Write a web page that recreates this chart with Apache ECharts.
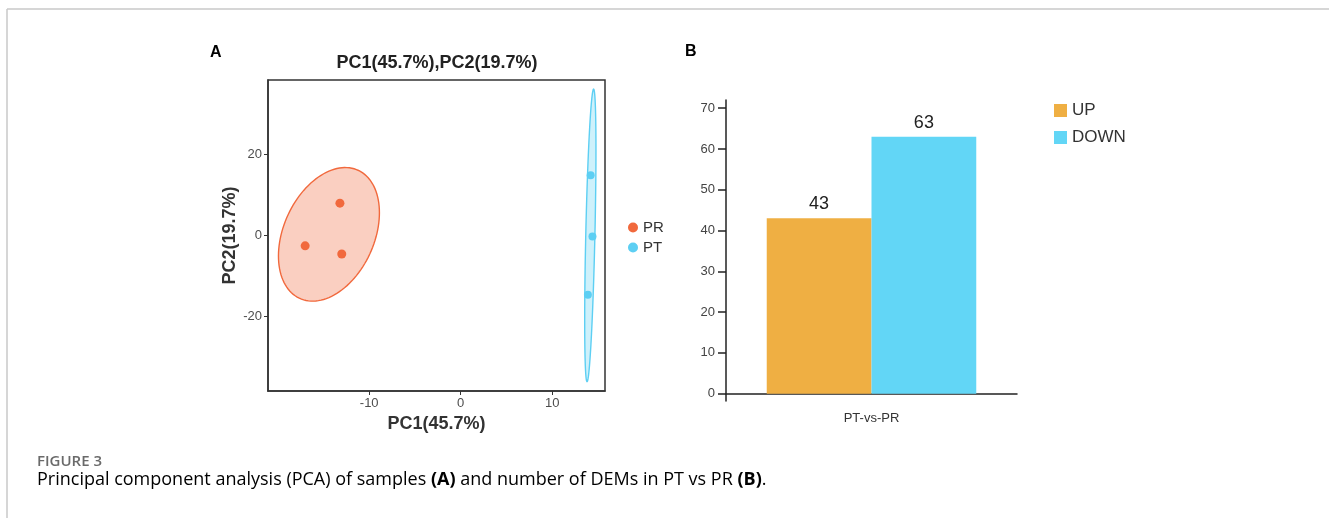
<!DOCTYPE html>
<html>
<head>
<meta charset="utf-8">
<script src="https://cdn.jsdelivr.net/npm/echarts@6/dist/echarts.min.js"></script>
<style>
  html, body { margin: 0; padding: 0; background: #fff; }
  #chart { width: 1329px; height: 518px; }
</style>
</head>
<body>
<div id="chart"></div>
<script>
// panel A: PCA scores
const prPoints = [[-13.2, 7.9], [-17.0, -2.6], [-13.0, -4.6]];
const ptPoints = [[14.2, 14.8], [14.4, -0.3], [13.9, -14.6]];
const pcaXTicks = [-10, 0, 10];
const pcaYTicks = [-20, 0, 20];

// panel B: number of DEMs
const groups = ['PT-vs-PR'];
const upCounts = [43];
const downCounts = [63];
const countTicks = [0, 10, 20, 30, 40, 50, 60, 70];

const PR_COLOR = '#F1693D';
const PT_COLOR = '#5DCFF3';
const FONT = 'Liberation Sans, Arial, sans-serif';

// 95% normal confidence ellipse from the group's points
function confEllipse(pts, n) {
  const k = pts.length;
  let mx = 0, my = 0;
  pts.forEach(p => { mx += p[0]; my += p[1]; });
  mx /= k; my /= k;
  let sxx = 0, syy = 0, sxy = 0;
  pts.forEach(p => {
    sxx += (p[0] - mx) * (p[0] - mx);
    syy += (p[1] - my) * (p[1] - my);
    sxy += (p[0] - mx) * (p[1] - my);
  });
  sxx /= (k - 1); syy /= (k - 1); sxy /= (k - 1);
  const a = Math.sqrt(sxx);
  const b = sxy / a;
  const c = Math.sqrt(syy - b * b);
  const r = Math.sqrt(5.991);
  const out = [];
  for (let i = 0; i < n; i++) {
    const t = 2 * Math.PI * i / n;
    out.push([mx + r * a * Math.cos(t), my + r * (b * Math.cos(t) + c * Math.sin(t))]);
  }
  return out;
}

function ellipseSeries(pts, color, fill) {
  const ring = confEllipse(pts, 120);
  return {
    type: 'custom',
    xAxisIndex: 0,
    yAxisIndex: 0,
    silent: true,
    z: 1,
    data: [[0, 0]],
    renderItem: function (params, api) {
      return {
        type: 'polygon',
        shape: { points: ring.map(p => api.coord(p)) },
        style: { fill: fill, stroke: color, lineWidth: 1.4 }
      };
    }
  };
}

var chart = echarts.init(document.getElementById('chart'));

var option = {
  animation: false,
  backgroundColor: '#fff',
  grid: [
    { left: 268, right: 724, top: 80, bottom: 127, show: true, borderColor: '#333', borderWidth: 1.5, backgroundColor: 'transparent' },
    { left: 726, right: 312, top: 100, bottom: 117 }
  ],
  legend: [
    {
      data: ['PR', 'PT'],
      orient: 'vertical',
      left: 623,
      top: 215,
      icon: 'circle',
      itemWidth: 10,
      itemHeight: 10,
      itemGap: 5,
      textStyle: { fontSize: 15, color: '#333', fontFamily: FONT }
    },
    {
      data: ['UP', 'DOWN'],
      orient: 'vertical',
      left: 1049,
      top: 97,
      icon: 'rect',
      itemWidth: 13,
      itemHeight: 13,
      itemGap: 10,
      textStyle: { fontSize: 17, color: '#333', fontFamily: FONT }
    }
  ],
  xAxis: [
    {
      type: 'value', gridIndex: 0, min: -21.06, max: 15.77,
      name: 'PC1(45.7%)', nameLocation: 'middle', nameGap: 21,
      nameTextStyle: { fontSize: 18, fontWeight: 'bold', color: '#333', fontFamily: FONT },
      axisLine: { show: true, onZero: false, lineStyle: { color: '#333', width: 1.5 } },
      axisTick: { show: true, length: 4, customValues: pcaXTicks, lineStyle: { color: '#333' } },
      axisLabel: { customValues: pcaXTicks, margin: 6, fontSize: 13, color: '#4d4d4d', fontFamily: FONT },
      splitLine: { show: false }
    },
    {
      type: 'category', gridIndex: 1, data: groups,
      axisLine: { onZero: true, lineStyle: { color: '#222', width: 1.5 } },
      axisTick: { alignWithLabel: true, length: 7, lineStyle: { color: '#222', width: 1.5 } },
      axisLabel: { margin: 11, fontSize: 13, color: '#333', fontFamily: FONT }
    }
  ],
  yAxis: [
    {
      type: 'value', gridIndex: 0, min: -38.3, max: 38.2,
      name: 'PC2(19.7%)', nameLocation: 'middle', nameGap: 28,
      nameTextStyle: { fontSize: 18, fontWeight: 'bold', color: '#333', fontFamily: FONT },
      axisLine: { show: true, onZero: false, lineStyle: { color: '#333', width: 1.5 } },
      axisTick: { show: true, length: 4, customValues: pcaYTicks, lineStyle: { color: '#333' } },
      axisLabel: { customValues: pcaYTicks, margin: 6, fontSize: 13, color: '#4d4d4d', fontFamily: FONT },
      splitLine: { show: false }
    },
    {
      type: 'value', gridIndex: 1, min: -1.8, max: 72,
      axisLine: { show: true, lineStyle: { color: '#222', width: 1.5 } },
      axisTick: { show: true, length: 8, customValues: countTicks, lineStyle: { color: '#222', width: 1.5 } },
      axisLabel: { customValues: countTicks, margin: 11, fontSize: 13, color: '#444', fontFamily: FONT },
      splitLine: { show: false }
    }
  ],
  series: [
    ellipseSeries(prPoints, PR_COLOR, 'rgba(241,105,61,0.32)'),
    ellipseSeries(ptPoints, PT_COLOR, 'rgba(93,207,243,0.30)'),
    {
      name: 'PR', type: 'scatter', xAxisIndex: 0, yAxisIndex: 0, z: 3,
      symbolSize: 9, itemStyle: { color: PR_COLOR, opacity: 1 }, data: prPoints
    },
    {
      name: 'PT', type: 'scatter', xAxisIndex: 0, yAxisIndex: 0, z: 3,
      symbolSize: 8, itemStyle: { color: PT_COLOR, opacity: 1 }, data: ptPoints
    },
    {
      name: 'UP', type: 'bar', xAxisIndex: 1, yAxisIndex: 1,
      barGap: '0%', barCategoryGap: '28%',
      itemStyle: { color: '#EFAF43' },
      label: { show: true, position: 'top', distance: 5, fontSize: 18, color: '#222', fontFamily: FONT },
      data: upCounts
    },
    {
      name: 'DOWN', type: 'bar', xAxisIndex: 1, yAxisIndex: 1,
      barGap: '0%', barCategoryGap: '28%',
      itemStyle: { color: '#62D6F6' },
      label: { show: true, position: 'top', distance: 5, fontSize: 18, color: '#222', fontFamily: FONT },
      data: downCounts
    }
  ],
  graphic: [
    { type: 'line', shape: { x1: 7, y1: 9, x2: 1329, y2: 9 }, style: { stroke: '#c8c8c8', lineWidth: 1.5 } },
    { type: 'line', shape: { x1: 7, y1: 9, x2: 7, y2: 518 }, style: { stroke: '#c8c8c8', lineWidth: 1.5 } },
    { type: 'text', x: 210, y: 53, style: { text: 'A', font: 'bold 16px Liberation Sans, Arial, sans-serif', fill: '#000', verticalAlign: 'middle' } },
    { type: 'text', x: 685, y: 52, style: { text: 'B', font: 'bold 16px Liberation Sans, Arial, sans-serif', fill: '#000', verticalAlign: 'middle' } },
    { type: 'text', x: 437, y: 63, style: { text: 'PC1(45.7%),PC2(19.7%)', font: 'bold 18px Liberation Sans, Arial, sans-serif', fill: '#222', align: 'center', verticalAlign: 'middle' } },
    { type: 'text', x: 37, y: 462, style: { text: 'FIGURE 3', font: '600 15px "Open Sans", sans-serif', fill: '#6a6a6a', verticalAlign: 'middle' } },
    {
      type: 'text', x: 37, y: 480,
      style: {
        text: '{n|Principal component analysis (PCA) of samples }{b|(A)}{n| and number of DEMs in PT vs PR }{b|(B)}{n|.}',
        verticalAlign: 'middle',
        rich: {
          n: { fontFamily: '"Open Sans", sans-serif', fontSize: 18, color: '#6e6e6e' },
          b: { fontFamily: '"Open Sans", sans-serif', fontSize: 18, fontWeight: 'bold', color: '#6e6e6e' }
        }
      }
    }
  ]
};

chart.setOption(option);
</script>
</body>
</html>
